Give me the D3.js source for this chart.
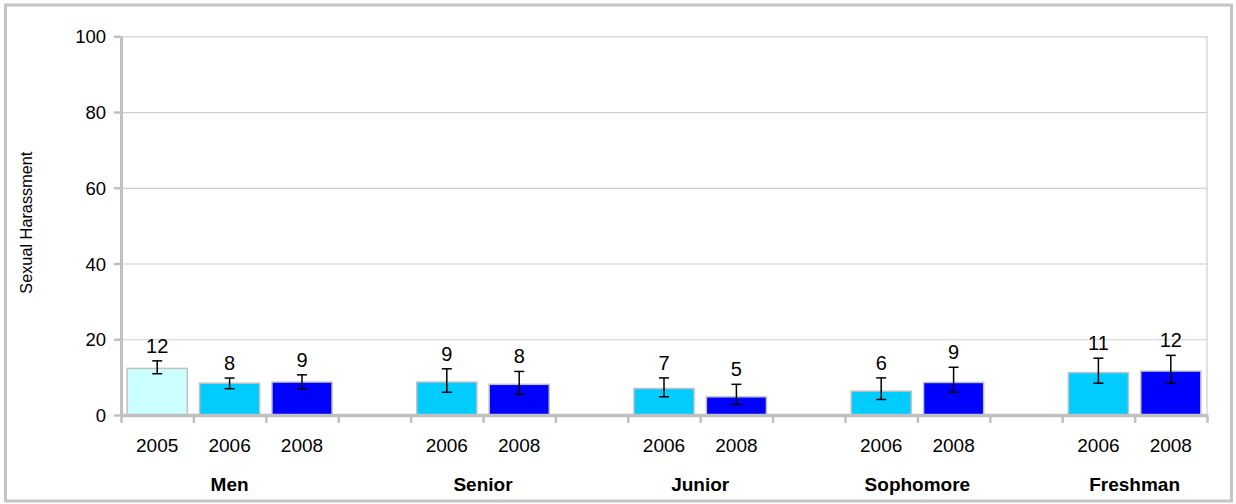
<!DOCTYPE html>
<html>
<head>
<meta charset="utf-8">
<script src="https://cdn.jsdelivr.net/npm/d3@7"></script>
<style>
  html, body { margin: 0; padding: 0; background: #fff; }
  svg text { font-family: "Liberation Sans", Arial, Helvetica, sans-serif; fill: #000; }
</style>
</head>
<body>
<svg id="chart" width="1236" height="504"></svg>
<script>
// Groups and the survey years shown under each group
const groups = ["Men", "Senior", "Junior", "Sophomore", "Freshman"];
const groupYears = [["2005", "2006", "2008"], ["2006", "2008"], ["2006", "2008"], ["2006", "2008"], ["2006", "2008"]];
const years = ["2005", "2006", "2008"];

// Percentages per group, one array per year (null = not surveyed)
const value2005 = [12.3, null, null, null, null];
const value2006 = [8.4, 8.7, 7.0, 6.3, 11.2];
const value2008 = [8.7, 8.1, 4.8, 8.6, 11.6];

// Confidence interval bounds per group and year
const low2005 = [10.9, null, null, null, null];
const high2005 = [14.3, null, null, null, null];
const low2006 = [6.95, 6.0, 4.8, 4.1, 8.4];
const high2006 = [9.76, 12.2, 9.8, 9.8, 15.0];
const low2008 = [6.95, 5.5, 2.8, 6.0, 8.4];
const high2008 = [10.6, 11.5, 8.1, 12.6, 15.75];

const yTicks = [0, 20, 40, 60, 80, 100];
const yTitle = "Sexual Harassment";

const seriesByYear = {
  "2005": { v: value2005, lo: low2005, hi: high2005 },
  "2006": { v: value2006, lo: low2006, hi: high2006 },
  "2008": { v: value2008, lo: low2008, hi: high2008 }
};
const fills = { "2005": "#ccffff", "2006": "#00ccff", "2008": "#0000ff" };

// Build the slot list: each group's bars followed by one empty spacer slot
const slots = [];
groups.forEach((g, gi) => {
  groupYears[gi].forEach(yr => {
    const s = seriesByYear[yr];
    slots.push({ key: g + "|" + yr, group: g, gi, year: yr, value: s.v[gi], lo: s.lo[gi], hi: s.hi[gi] });
  });
  if (gi < groups.length - 1) slots.push({ key: "gap" + gi, spacer: true });
});

const svg = d3.select("#chart");
const plotLeft = 121, plotRight = 1207, plotTop = 36.3, plotBottom = 415;

// Outer frame
svg.append("rect")
  .attr("x", 5.5).attr("y", 5).attr("width", 1226).attr("height", 496)
  .attr("fill", "none").attr("stroke", "#c4c4c4").attr("stroke-width", 3);

const y = d3.scaleLinear().domain([0, 100]).range([plotBottom, plotTop]);
const x = d3.scaleBand().domain(slots.map(d => d.key)).range([plotLeft, plotRight])
  .paddingInner(0.17).paddingOuter(0.085);
const xEdge = d3.scaleLinear().domain([0, slots.length]).range([plotLeft, plotRight]);

// Horizontal gridlines
svg.append("g")
  .attr("transform", `translate(${plotLeft},0)`)
  .call(d3.axisLeft(y).tickValues(yTicks.slice(1)).tickSize(-(plotRight - plotLeft)).tickFormat(""))
  .call(g => g.select(".domain").remove())
  .call(g => g.selectAll("line").attr("stroke", "#cfcfcf").attr("stroke-width", 1.2));

// Right edge of the plot area
svg.append("line")
  .attr("x1", plotRight).attr("x2", plotRight).attr("y1", plotTop).attr("y2", plotBottom)
  .attr("stroke", "#cfcfcf").attr("stroke-width", 1.2);

// Y axis
svg.append("g")
  .attr("transform", `translate(${plotLeft},0)`)
  .call(d3.axisLeft(y).tickValues(yTicks).tickSize(7).tickPadding(8).tickSizeOuter(0))
  .call(g => g.select(".domain").attr("stroke", "#c0c0c0").attr("stroke-width", 3))
  .call(g => g.selectAll(".tick line").attr("stroke", "#c0c0c0").attr("stroke-width", 2.5))
  .call(g => g.selectAll(".tick text").attr("font-size", 18.5).attr("dy", "0.36em"));

// Y axis title
svg.append("text")
  .attr("transform", `translate(32,${(plotTop + plotBottom) / 2 - 3}) rotate(-90)`)
  .attr("text-anchor", "middle")
  .attr("font-size", 16.3)
  .text(yTitle);

const bars = slots.filter(d => !d.spacer);

// Bars
svg.append("g").selectAll("rect").data(bars).join("rect")
  .attr("x", d => x(d.key))
  .attr("y", d => y(d.value))
  .attr("width", x.bandwidth())
  .attr("height", d => y(0) - y(d.value))
  .attr("fill", d => fills[d.year])
  .attr("stroke", "#c2c2c2")
  .attr("stroke-width", 1.5);

// X axis with tick marks at slot boundaries
svg.append("g")
  .attr("transform", `translate(0,${plotBottom})`)
  .call(d3.axisBottom(xEdge).tickValues(d3.range(slots.length + 1)).tickSize(8).tickFormat("").tickSizeOuter(0))
  .call(g => g.select(".domain").attr("stroke", "#c0c0c0").attr("stroke-width", 3.5))
  .call(g => g.selectAll(".tick line").attr("stroke", "#c0c0c0").attr("stroke-width", 2.5));

// Error bars
const err = svg.append("g").attr("stroke", "#000").attr("stroke-width", 1.5);
const cx = d => x(d.key) + x.bandwidth() / 2;
err.selectAll("line.v").data(bars).join("line").attr("class", "v")
  .attr("x1", cx).attr("x2", cx).attr("y1", d => y(d.lo)).attr("y2", d => y(d.hi));
err.selectAll("line.t").data(bars).join("line").attr("class", "t")
  .attr("x1", d => cx(d) - 5).attr("x2", d => cx(d) + 5).attr("y1", d => y(d.hi)).attr("y2", d => y(d.hi));
err.selectAll("line.b").data(bars).join("line").attr("class", "b")
  .attr("x1", d => cx(d) - 5).attr("x2", d => cx(d) + 5).attr("y1", d => y(d.lo)).attr("y2", d => y(d.lo));

// Value labels above the error bars
svg.append("g").selectAll("text").data(bars).join("text")
  .attr("x", cx)
  .attr("y", d => y(d.hi) - 8)
  .attr("text-anchor", "middle")
  .attr("font-size", 20)
  .text(d => d3.format(".0f")(d.value));

// Year labels
svg.append("g").selectAll("text").data(bars).join("text")
  .attr("x", cx)
  .attr("y", 452)
  .attr("text-anchor", "middle")
  .attr("font-size", 19)
  .text(d => d.year);

// Group labels centred under each group's bars
svg.append("g").selectAll("text").data(groups).join("text")
  .attr("x", (g, gi) => {
    const gb = bars.filter(b => b.gi === gi);
    return (x(gb[0].key) + x(gb[gb.length - 1].key) + x.bandwidth()) / 2;
  })
  .attr("y", 491)
  .attr("text-anchor", "middle")
  .attr("font-size", 19)
  .attr("font-weight", "bold")
  .text(g => g);
</script>
</body>
</html>
